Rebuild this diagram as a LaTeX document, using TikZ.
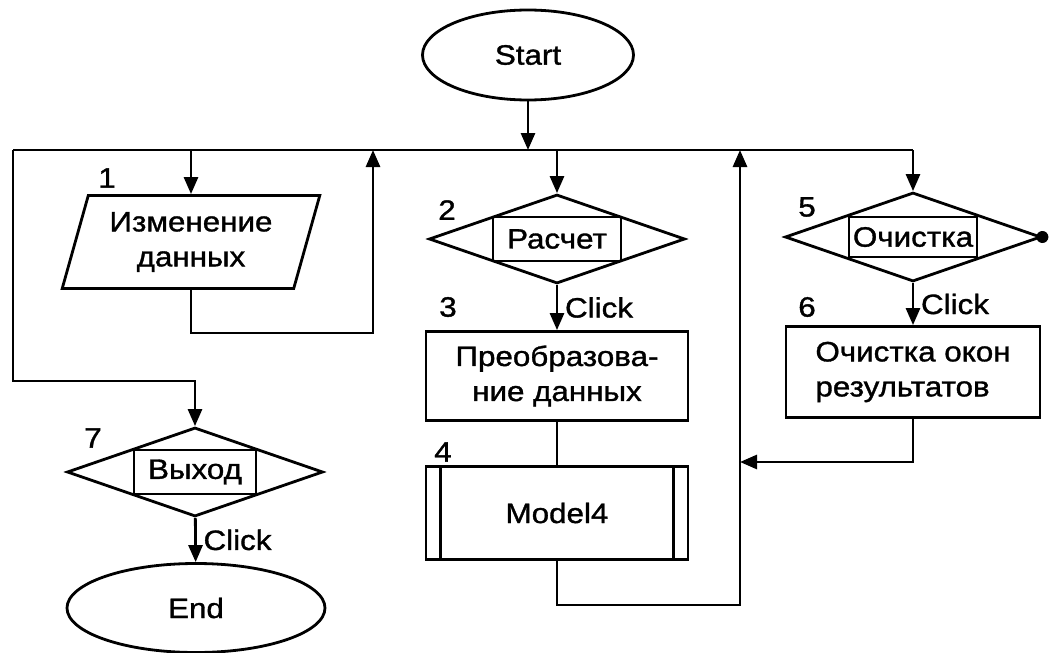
\documentclass[tikz,border=0pt]{standalone}
\usepackage{fontspec}
\setmainfont{Liberation Sans}[FakeStretch=1.12,FakeBold=1.2]
\usetikzlibrary{shapes.geometric,arrows.meta}

\begin{document}
\begin{tikzpicture}[x=0.5pt,y=-0.5pt,line width=1.4pt,
  font=\fontsize{14}{17.5}\selectfont,
  arr/.style={-{Triangle[length=8.5pt,width=7pt]}},
  term/.style={draw,ellipse,minimum width=129pt,minimum height=44.5pt},
  proc/.style={draw,rectangle,minimum width=131pt,minimum height=44.5pt,align=center},
  io/.style={draw,trapezium,trapezium left angle=73,trapezium right angle=107,
    trapezium stretches=true,minimum width=129pt,minimum height=46.5pt,align=center},
  decision/.style={draw,diamond,minimum width=128pt,minimum height=44.5pt,inner sep=0pt},
  call/.style={draw,rectangle,minimum width=64pt,minimum height=22pt,inner sep=0pt},
  num/.style={inner sep=0pt}]

  \useasboundingbox (0,0) rectangle (1057,653);

  % Blocks
  \node[term,minimum width=105.5pt,minimum height=45pt] (start) at (528,55) {Start};
  \node[io] (b1) at (191,242) {Изменение\\данных};
  \node[decision] (d2) at (557,239) {};
  \node[call] (r2) at (d2) {Расчет};
  \node[proc] (b3) at (557,376) {Преобразова-\\ние данных};
  \node[proc,minimum height=46.5pt] (b4) at (557,513) {Model4};
  \node[decision] (d5) at (913,237) {};
  \node[call,minimum height=20pt] (r5) at (d5) {Очистка};
  \node[proc,minimum width=127pt,minimum height=45.5pt,align=left] (b6) at (913,372) {Очистка окон\\результатов};
  \node[decision] (d7) at (195,472) {};
  \node[call,minimum width=61pt] (r7) at (d7) {Выход};
  \node[term] (stop) at (196,608) {End};

  % Numbers
  \node[num] (n1) at (107,178) {1};
  \node[num] (n2) at (447,210) {2};
  \node[num] (n3) at (448,307) {3};
  \node[num] (n4) at (443,452) {4};
  \node[num] (n5) at (807,207) {5};
  \node[num] (n6) at (807,307) {6};
  \node[num] (n7) at (93,438) {7};

  % Bus
  \coordinate (busL) at (13,150);
  \coordinate (busR) at (913,150);
  \coordinate (c7) at (195,381);
  \coordinate (ret1) at (373,333);
  \coordinate (ret4) at (740,605);
  \coordinate (join6) at (740,462);
  \draw (busL) -- (busR);
  \draw[arr] (start) -- (start |- busL);

  % Connectors
  \draw[arr] (b1 |- busL) -- (b1);
  \draw[arr] (d2 |- busL) -- (d2);
  \draw[arr] (busR) -- (d5);
  \draw[arr] (busL) |- (c7) -- (d7);
  \draw[arr] (b1.south) |- (ret1) -- (ret1 |- busL);
  \draw[arr] (d2) -- node[right] {Click} (b3);
  \draw (b3) -- (b4);
  \draw[arr] (b4.south) |- (ret4) -- (ret4 |- busL);
  \draw[arr] (d5) -- node[right] {Click} (b6);
  \draw[arr] (b6.south) |- (join6);
  \draw[arr] (d7) -- node[right] {Click} (stop);

  % Extra marks
  \draw ([xshift=8pt]b4.north west) -- ([xshift=8pt]b4.south west);
  \draw ([xshift=-8pt]b4.north east) -- ([xshift=-8pt]b4.south east);
  \fill (d5.east) circle (3pt);

\end{tikzpicture}
\end{document}
